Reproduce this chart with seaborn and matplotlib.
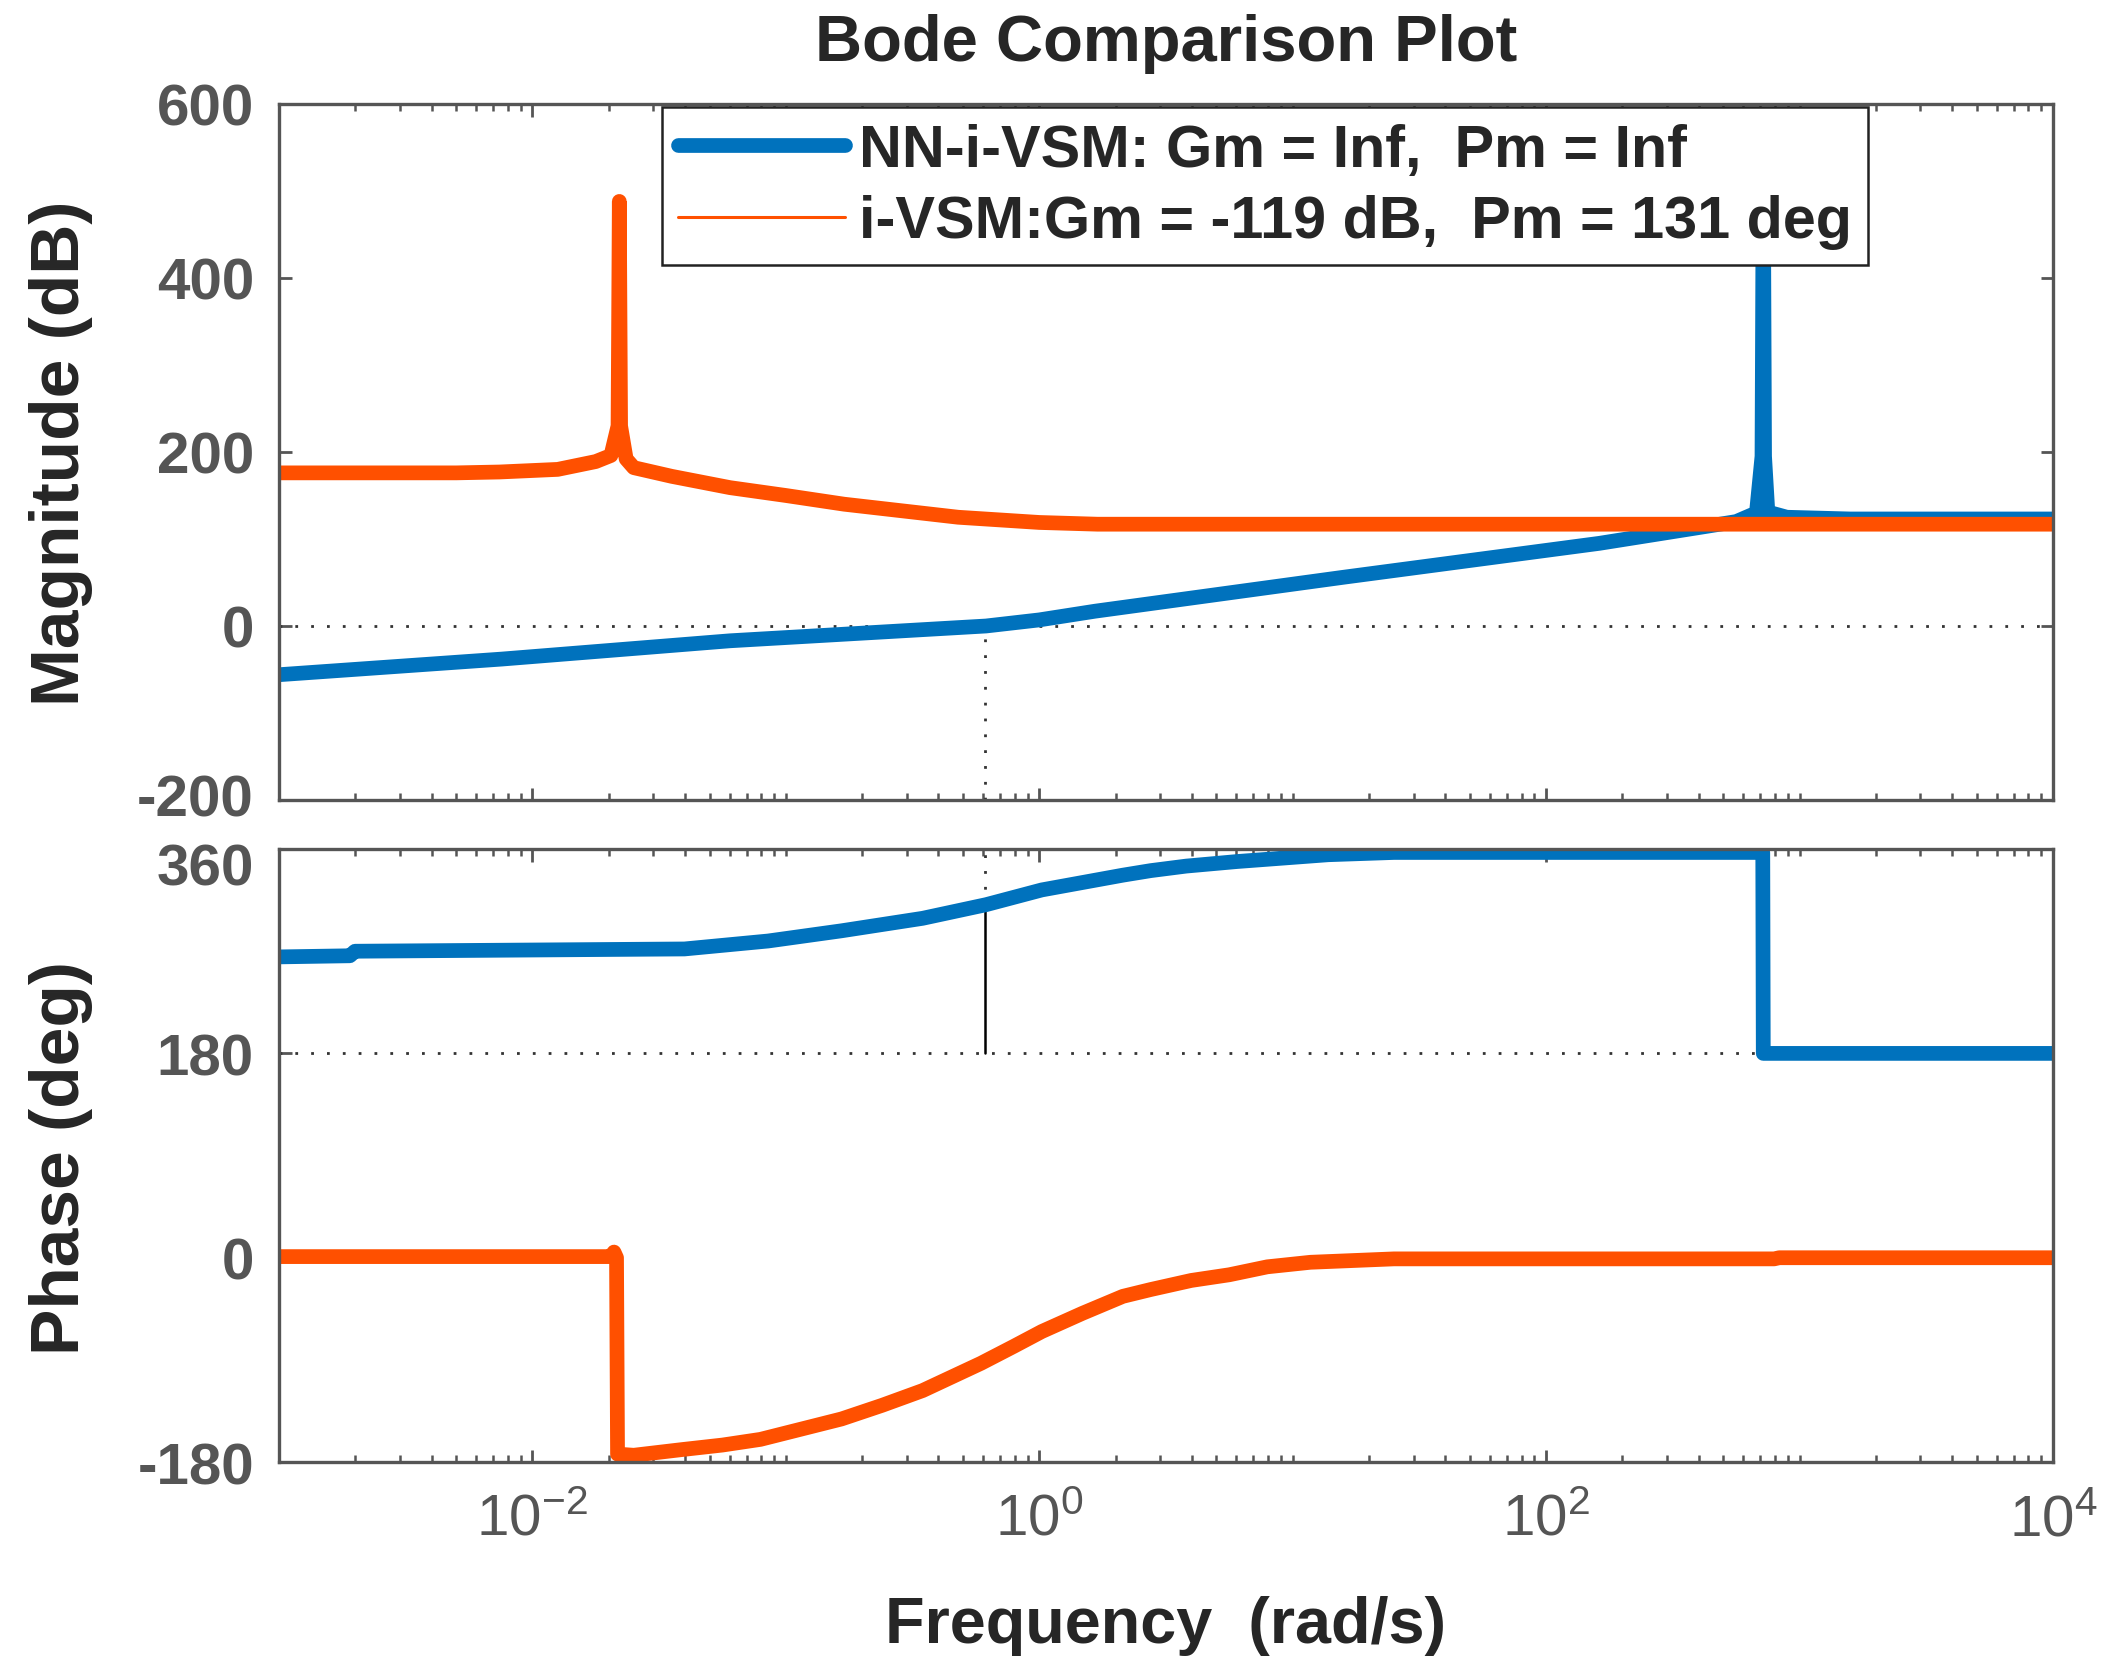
import numpy as np
import matplotlib
matplotlib.use('Agg')
import matplotlib.pyplot as plt
import matplotlib.transforms as mtransforms
import seaborn as sns
from matplotlib.lines import Line2D
from matplotlib.ticker import LogLocator, NullFormatter, FixedLocator

# values; frequencies given as log10(w) in rad/s
nn_mag_logw = [-3.0, -2.12, -1.22, -0.21, 0.0, 0.22, 1.2, 2.21, 2.6, 2.75, 2.83,
               2.852, 2.857, 2.862, 2.875, 2.95, 3.2, 4.0]
nn_mag_db = [-56, -38, -17, 0, 7, 17, 56, 95, 113, 120, 130,
             195, 540, 195, 131, 125, 123, 123]

iv_mag_logw = [-3.0, -2.3, -2.13, -1.9, -1.75, -1.69, -1.662, -1.657, -1.652,
               -1.63, -1.6, -1.45, -1.22, -1.0, -0.77, -0.32, 0.0, 0.23, 0.6, 4.0]
iv_mag_db = [176, 176, 177, 180, 189, 196, 230, 488, 230,
             192, 182, 172, 159, 150, 140, 125, 119, 117, 117, 117]

nn_ph_logw = [-3.0, -2.72, -2.7, -1.4, -1.07, -0.78, -0.46, -0.21, 0.01,
              0.33, 0.44, 0.58, 0.78, 1.14, 1.4, 2.855, 2.857, 4.0]
nn_ph_deg = [265, 266, 270, 272, 279, 288, 299, 311, 324,
             337, 341, 345, 349, 355, 357, 357, 180, 180]

iv_ph_logw = [-3.0, -1.69, -1.678, -1.668, -1.664, -1.60, -1.41, -1.25, -1.10,
              -0.78, -0.62, -0.46, -0.23, -0.1, 0.01, 0.17, 0.33, 0.44, 0.6,
              0.75, 0.9, 1.07, 1.4, 2.9, 2.92, 4.0]
iv_ph_deg = [1, 1, 5, 0, -173, -174, -169, -165, -160,
             -142, -130, -117, -93, -78, -65, -49, -34, -28, -20,
             -15, -8, -4, -1, -1, 0, 0]

# gain crossover of NN-i-VSM (margin markers)
cross_w = 0.612
cross_ph = 311

labels = ['NN-i-VSM: Gm = Inf,  Pm = Inf', 'i-VSM:Gm = -119 dB,  Pm = 131 deg']
mag_ticks = [-200, 0, 200, 400, 600]
ph_ticks = [-180, 0, 180, 360]
x_ticks = [1e-2, 1e0, 1e2, 1e4]

BLUE = '#0072BD'
ORANGE = '#FF5000'
GRAY = '#555555'

sns.set_style('ticks')
plt.rcParams['font.family'] = ['Liberation Sans', 'DejaVu Sans']
plt.rcParams['mathtext.default'] = 'regular'
plt.rcParams['axes.unicode_minus'] = False

fig = plt.figure(figsize=(10.615, 8.37), dpi=200)
ax_mag = fig.add_axes([0.1314, 0.5215, 0.8356, 0.4158])
ax_ph = fig.add_axes([0.1314, 0.126, 0.8356, 0.3662], sharex=ax_mag)

for ax in (ax_mag, ax_ph):
    ax.set_xscale('log')

dot = (0, (1, 4.7))
ax_mag.axhline(0, color='#333333', lw=1.0, ls=dot)
ax_mag.plot([cross_w, cross_w], [-200, 0], color='#333333', lw=1.0, ls=dot)
ax_ph.axhline(180, color='#333333', lw=1.0, ls=dot)
ax_ph.plot([cross_w, cross_w], [cross_ph, 360], color='#333333', lw=1.0, ls=dot)
ax_ph.plot([cross_w, cross_w], [180, cross_ph], color='black', lw=0.9)

lw = 5.3
sns.lineplot(x=10.0 ** np.array(nn_mag_logw), y=nn_mag_db, ax=ax_mag, color=BLUE,
             linewidth=lw, sort=False, estimator=None, legend=False)
sns.lineplot(x=10.0 ** np.array(iv_mag_logw), y=iv_mag_db, ax=ax_mag, color=ORANGE,
             linewidth=lw, sort=False, estimator=None, legend=False)
sns.lineplot(x=10.0 ** np.array(nn_ph_logw), y=nn_ph_deg, ax=ax_ph, color=BLUE,
             linewidth=lw, sort=False, estimator=None, legend=False)
sns.lineplot(x=10.0 ** np.array(iv_ph_logw), y=iv_ph_deg, ax=ax_ph, color=ORANGE,
             linewidth=lw, sort=False, estimator=None, legend=False)

ax_mag.set_ylim(-200, 600)
ax_mag.set_yticks(mag_ticks)
ax_ph.set_ylim(-180, 360)
ax_ph.set_yticks(ph_ticks)
ax_ph.set_xlim(1e-3, 1e4)
ax_ph.xaxis.set_major_locator(FixedLocator(x_ticks))
ax_ph.xaxis.set_minor_locator(LogLocator(base=10, subs=np.arange(1, 10), numticks=100))
ax_ph.xaxis.set_minor_formatter(NullFormatter())

for ax in (ax_mag, ax_ph):
    ax.set_xlabel('')
    ax.set_ylabel('')
    for s in ax.spines.values():
        s.set_color(GRAY)
        s.set_linewidth(1.2)
    ax.tick_params(which='both', direction='in', top=True, right=True,
                   colors=GRAY, labelcolor=GRAY)
    ax.tick_params(which='major', length=4.5, width=1.0, labelsize=21, pad=9)
    ax.tick_params(which='minor', length=2.5, width=0.9)
    for t in ax.get_yticklabels():
        t.set_fontweight('bold')
ax_mag.tick_params(labelbottom=False)
ax_ph.tick_params(axis='x', pad=11)

# the -200 and 360 labels sit close together, nudge them apart a little
lab_low = ax_mag.yaxis.get_major_ticks()[0].label1
lab_low.set_transform(lab_low.get_transform() +
                      mtransforms.ScaledTranslation(0, 0.03, fig.dpi_scale_trans))
lab_top = ax_ph.yaxis.get_major_ticks()[-1].label1
lab_top.set_transform(lab_top.get_transform() +
                      mtransforms.ScaledTranslation(0, -0.07, fig.dpi_scale_trans))

handles = [Line2D([], [], color=BLUE, lw=lw), Line2D([], [], color=ORANGE, lw=1.1)]
leg = ax_mag.legend(handles, labels, loc='upper left', bbox_to_anchor=(0.216, 0.996),
                    borderaxespad=0, frameon=True, fancybox=False, framealpha=1,
                    edgecolor='#222222', handlelength=2.8, handletextpad=0.25,
                    labelspacing=0.28, borderpad=0.27,
                    prop={'size': 21.4, 'weight': 'bold'})
leg.get_frame().set_linewidth(0.9)

fig.text(0.5492, 0.974, 'Bode Comparison Plot', ha='center', va='center',
         fontsize=23.5, fontweight='bold')
fig.text(0.5492, 0.0287, 'Frequency  (rad/s)', ha='center', va='center',
         fontsize=23.3, fontweight='bold')
fig.text(0.0287, 0.7294, 'Magnitude (dB)', ha='center', va='center', rotation=90,
         fontsize=25, fontweight='bold')
fig.text(0.0287, 0.3082, 'Phase (deg)', ha='center', va='center', rotation=90,
         fontsize=25, fontweight='bold')

fig.savefig('out.png', dpi=200, facecolor='white')
